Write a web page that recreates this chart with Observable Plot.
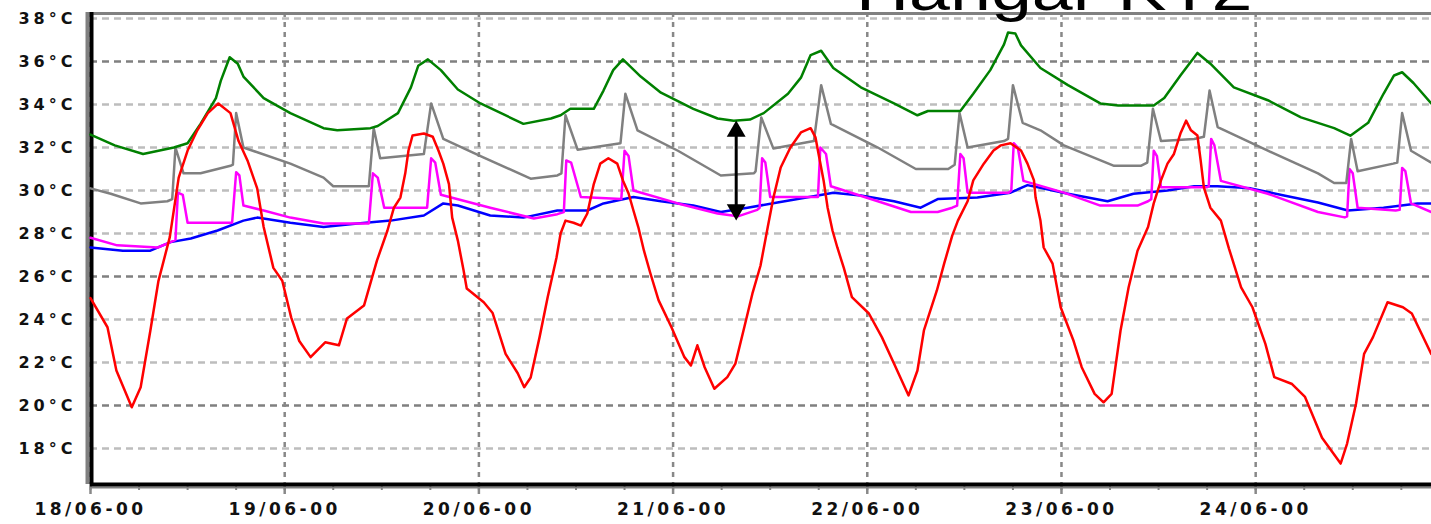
<!DOCTYPE html>
<html>
<head>
<meta charset="utf-8">
<script src="https://cdn.jsdelivr.net/npm/d3@7"></script>
<script src="https://cdn.jsdelivr.net/npm/@observablehq/plot@0.6"></script>
<style>
  html, body { margin: 0; padding: 0; background: #fff; overflow: hidden; }
  #wrap { position: relative; width: 1431px; height: 524px; overflow: hidden; }
  #title { position: absolute; left: 856px; top: -38px; font-family: "Liberation Sans", Arial, sans-serif;
           font-size: 57px; line-height: 57px; color: #000; white-space: nowrap;
           transform: scaleX(1.29); transform-origin: left top; z-index: 2; }
</style>
</head>
<body>
<div id="wrap"><div id="chart"></div><div id="title">Hangar KT2</div></div>
<script>
// hours since 18/06 00:00, temperature °C
const greenSeries = [[0,32.6],[3,32.1],[6.5,31.7],[10.3,32.0],[12,32.2],[13.6,33.1],[15.5,34.3],[16.1,35.1],[17.2,36.2],[18.2,35.9],[18.9,35.3],[21.4,34.3],[24.7,33.6],[28.8,32.9],[30.5,32.8],[34.6,32.9],[35.5,33.0],[38,33.6],[39.6,34.8],[40.5,35.8],[41.7,36.1],[43.3,35.6],[45.4,34.7],[48.2,34.05],[53.5,33.1],[56.9,33.35],[58.1,33.5],[59.3,33.8],[62.2,33.8],[63.4,34.65],[64.6,35.6],[65.8,36.1],[68,35.3],[70.5,34.55],[74.5,33.8],[77.5,33.35],[79.5,33.25],[81.5,33.3],[83.2,33.6],[86.2,34.5],[87.8,35.25],[89,36.3],[90.3,36.5],[91.8,35.7],[95.2,34.8],[99.3,34.05],[102.2,33.5],[103.5,33.7],[107.5,33.7],[109.1,34.5],[111.2,35.6],[112.9,36.8],[113.4,37.35],[114.3,37.3],[115,36.75],[117.4,35.7],[120.8,34.9],[124.8,34.05],[127,33.95],[131.4,33.95],[132.7,34.3],[134.7,35.35],[136.8,36.4],[138.4,35.9],[141.3,34.8],[145.5,34.2],[149.6,33.4],[153.7,32.9],[155.7,32.55],[157.9,33.15],[159.8,34.5],[161.1,35.35],[162.1,35.5],[163.5,35.0],[165.7,34.05]];

const greySeries = [[0,30.1],[2.5,29.85],[6.2,29.4],[9.5,29.5],[10.1,29.6],[10.5,32.0],[11.5,30.8],[13.6,30.8],[17.3,31.15],[17.6,31.2],[18.0,33.6],[18.9,32.0],[24.7,31.25],[28.8,30.6],[30,30.2],[34.4,30.2],[35.0,32.9],[35.8,31.5],[41.2,31.7],[42.1,34.05],[43.6,32.4],[48.2,31.6],[54.4,30.55],[57.7,30.7],[58.2,30.8],[58.7,33.5],[60.2,31.9],[65.5,32.2],[66.1,34.5],[67.6,32.8],[72.6,31.85],[77.9,30.7],[82,30.8],[82.2,30.9],[82.9,33.4],[84.4,31.95],[89.4,32.3],[90.3,34.9],[91.5,33.1],[97.3,32.0],[102,31.0],[106,31.0],[106.8,31.2],[107.4,33.6],[108.4,32.0],[112.9,32.3],[113.4,32.4],[114.0,34.9],[115.2,33.15],[117.4,32.8],[120.3,32.1],[126.5,31.15],[129.8,31.15],[130.6,31.3],[131.3,33.8],[132.3,32.3],[136.4,32.4],[137.6,32.5],[138.3,34.65],[139.3,32.95],[145.5,31.85],[151.7,30.8],[153.7,30.35],[155.2,30.35],[155.8,32.4],[156.6,30.9],[161,31.25],[161.5,31.3],[162.1,33.6],[163.2,31.85],[165.7,31.3]];

const magentaSeries = [[0,27.8],[3.3,27.45],[8.3,27.35],[9.9,27.6],[10.5,27.7],[10.8,29.9],[11.4,29.8],[12.0,28.5],[17.5,28.5],[18.0,30.85],[18.4,30.7],[18.9,29.3],[21.4,29.07],[24.7,28.74],[28.8,28.47],[34.4,28.47],[34.9,30.8],[35.5,30.6],[36.3,29.2],[41.6,29.2],[42.1,31.5],[42.6,31.3],[43.3,29.8],[49.4,29.2],[54.8,28.7],[57.7,28.9],[58.5,29.0],[58.8,31.4],[59.4,31.3],[60.6,29.7],[65.6,29.6],[66.0,31.85],[66.5,31.6],[67.1,30.0],[72.6,29.4],[77.5,28.93],[80,28.8],[82.4,29.1],[82.7,29.2],[83.0,31.5],[83.4,31.3],[84.0,29.7],[89.9,29.7],[90.2,32.0],[90.9,31.7],[91.5,30.2],[97.3,29.5],[101.4,29.0],[104.7,29.0],[106.5,29.2],[107.1,29.3],[107.5,31.7],[107.9,31.5],[108.4,29.9],[113.5,29.9],[113.8,30.0],[114.1,32.2],[114.6,32.0],[115.3,30.45],[120.3,29.9],[124.8,29.3],[129.4,29.3],[130.7,29.5],[131.1,29.6],[131.4,31.85],[131.8,31.6],[132.3,30.15],[138,30.15],[138.2,30.2],[138.5,32.4],[138.9,32.1],[139.7,30.45],[145.5,29.85],[151.7,29.0],[155,28.75],[155.3,28.8],[155.6,31.0],[156.0,30.8],[156.6,29.2],[161.3,29.07],[161.8,29.1],[162.1,31.05],[162.5,30.9],[163.2,29.4],[165.7,29.0]];

const blueSeries = [[0,27.35],[4,27.2],[7.4,27.2],[9.9,27.6],[12.4,27.77],[15.7,28.14],[18.9,28.6],[20.6,28.74],[24.7,28.5],[28.8,28.3],[33,28.47],[37.1,28.6],[41.2,28.84],[43.6,29.4],[45.4,29.3],[49.4,28.84],[53.5,28.74],[57.7,29.07],[61.4,29.07],[63.4,29.4],[67.1,29.7],[70.5,29.5],[74.5,29.3],[77.9,29.0],[81.2,29.2],[84.9,29.44],[89.9,29.77],[91.8,29.9],[95.2,29.77],[99.3,29.5],[102.6,29.2],[104.7,29.6],[109.6,29.67],[113.7,29.9],[115.8,30.25],[120.8,29.85],[125.7,29.5],[128.9,29.85],[133.1,30.0],[136.4,30.2],[139.3,30.2],[143.4,30.1],[147.5,29.77],[151.7,29.44],[155.4,29.07],[159.8,29.2],[164,29.4],[165.7,29.4]];

const redSeries = [[0,25.0],[2.1,23.64],[3.2,21.63],[5.1,19.92],[6.2,20.85],[7.4,23.49],[8.4,25.8],[9.8,27.83],[10.9,30.6],[12,31.86],[13.2,32.8],[14.5,33.6],[15.8,34.05],[17.3,33.6],[18.3,32.3],[19.4,31.4],[20.6,30.1],[21.4,28.3],[22.6,26.4],[23.7,25.8],[24.8,24.1],[25.8,23.0],[27.2,22.25],[29,22.94],[30.7,22.8],[31.7,24.05],[33.8,24.65],[35.4,26.74],[36.7,28.14],[37.5,29.2],[38.3,29.67],[38.9,30.8],[39.3,31.86],[39.8,32.56],[41.2,32.65],[42.3,32.5],[43,31.86],[43.6,31.25],[44.3,30.3],[44.7,28.74],[45.4,27.67],[46.1,26.3],[46.5,25.44],[48.6,24.8],[49.7,24.3],[51.3,22.4],[52.8,21.5],[53.6,20.85],[54.4,21.3],[55.5,23.18],[56.5,25.04],[57.6,26.9],[58.1,28.0],[58.7,28.6],[59.7,28.5],[60.6,28.37],[61.4,28.93],[62.2,30.3],[63,31.25],[64,31.5],[65.1,31.25],[65.8,30.47],[66.5,29.86],[67.1,29.07],[67.7,28.3],[68.4,27.2],[69.2,26.14],[70.2,24.9],[71.8,23.64],[73.4,22.25],[74.2,21.86],[75,22.8],[75.9,21.78],[77.1,20.78],[78.7,21.32],[79.7,21.95],[80.8,23.64],[81.8,25.2],[82.8,26.5],[83.7,28.3],[84.4,29.67],[85.3,31.07],[86.5,32.0],[87.8,32.7],[89,32.9],[89.6,32.47],[89.9,31.86],[90.6,30.47],[91.1,29.2],[91.7,28.14],[92.3,27.35],[93.1,26.4],[94.1,25.04],[96.2,24.28],[97.8,23.18],[99.3,21.95],[101.1,20.47],[102.2,21.63],[103,23.49],[104.6,25.35],[105.5,26.6],[106.5,27.9],[107.2,28.6],[108.4,29.5],[109.1,30.47],[110.4,31.25],[111.6,31.86],[112.5,32.1],[113.7,32.2],[115,31.86],[115.8,31.25],[116.6,30.47],[116.8,29.67],[117.4,28.6],[117.8,27.35],[118.9,26.6],[119.9,24.57],[121.5,23.0],[122.5,21.78],[124.1,20.54],[125.2,20.15],[126.2,20.54],[127.3,23.49],[128.3,25.5],[129.4,27.2],[130.7,28.3],[131.4,29.4],[132.3,30.47],[133.1,31.25],[133.9,31.7],[134.7,32.65],[135.4,33.25],[136,32.8],[136.8,32.56],[137.2,31.4],[137.6,30.14],[138.4,29.2],[139.7,28.6],[140.7,27.3],[142.2,25.5],[143.6,24.57],[145.2,22.87],[146.3,21.32],[148.5,21.0],[150.1,20.4],[152.2,18.5],[154.5,17.3],[155.3,18.23],[156.4,20.08],[157.4,22.4],[158.5,23.18],[160.3,24.8],[162.2,24.57],[163.3,24.28],[165.7,22.4]];

// arrow marking the gap at 21/06 evening
const arrowHour = 79.8, arrowTop = 33.26, arrowBottom = 28.6;

const yTicks = [18,20,22,24,26,28,30,32,34,36,38];
const yTicksDark = [20,26,36];
const dayTicks = ["2008-06-18","2008-06-19","2008-06-20","2008-06-21","2008-06-22","2008-06-23","2008-06-24"];
const endHour = 165.73;

const t0 = Date.UTC(2008, 5, 18);
const toDate = h => new Date(t0 + h * 3600e3);
const rows = s => s.map(([h, v]) => ({t: toDate(h), v}));
const dayDates = dayTicks.map(d => new Date(d + "T00:00:00Z"));
const minorDates = d3.utcHour.every(6).range(toDate(0), toDate(endHour));
const yMin = 16.326, yMax = 38.28;

const chart = Plot.plot({
  width: 1431, height: 524,
  marginLeft: 90, marginRight: 0, marginTop: 12, marginBottom: 40,
  x: {type: "utc", domain: [toDate(0), toDate(endHour)]},
  y: {domain: [yMin, yMax]},
  style: {background: "#fff", fontFamily: "'DejaVu Sans', sans-serif", fontSize: "17px", color: "#111"},
  marks: [
    Plot.gridY(yTicks.filter(d => !yTicksDark.includes(d)), {stroke: "#bdbdbd", strokeOpacity: 1, strokeWidth: 2.5, strokeDasharray: "7,5"}),
    Plot.gridY(yTicksDark, {stroke: "#808080", strokeOpacity: 1, strokeWidth: 2.5, strokeDasharray: "7,5"}),
    Plot.gridX(dayDates, {stroke: "#888", strokeOpacity: 1, strokeWidth: 2.5, strokeDasharray: "5,5"}),
    Plot.axisX(minorDates, {tickSize: 6, text: null, label: null, stroke: "#888", strokeWidth: 2}),
    Plot.axisX(dayDates, {tickSize: 10, stroke: "#888", strokeWidth: 2.5, tickPadding: 8, label: null,
      tickFormat: d3.utcFormat("%d/%m-%H"), fontWeight: "bold", fontSize: 17}),
    Plot.axisY(yTicks, {tickSize: 0, tickPadding: 14, label: null, tickFormat: d => d + "°C", fontWeight: "bold", fontSize: 16}),
    Plot.ruleY([yMax], {stroke: "#808080", strokeWidth: 3, dy: 1}),
    Plot.ruleX([toDate(0)], {stroke: "#808080", strokeWidth: 4, dx: -3, y1: yMin, y2: yMax}),
    Plot.ruleX([toDate(0)], {stroke: "#000", strokeWidth: 4, dx: 1, y1: yMin, y2: yMax}),
    Plot.ruleY([yMin], {stroke: "#808080", strokeWidth: 2, dy: 3}),
    Plot.ruleY([yMin], {stroke: "#000", strokeWidth: 4}),
    Plot.line(rows(blueSeries), {x: "t", y: "v", stroke: "#0000ff", strokeWidth: 2.5}),
    Plot.line(rows(magentaSeries), {x: "t", y: "v", stroke: "#ff00ff", strokeWidth: 2.5}),
    Plot.line(rows(greySeries), {x: "t", y: "v", stroke: "#808080", strokeWidth: 2.5}),
    Plot.line(rows(greenSeries), {x: "t", y: "v", stroke: "#008000", strokeWidth: 2.5}),
    Plot.line(rows(redSeries), {x: "t", y: "v", stroke: "#ff0000", strokeWidth: 2.5}),
    Plot.ruleX([toDate(arrowHour)], {y1: arrowTop - 0.3, y2: arrowBottom + 0.3, stroke: "#000", strokeWidth: 3}),
    Plot.dot([{t: toDate(arrowHour), v: arrowTop}], {x: "t", y: "v", symbol: "triangle", r: 7, fill: "#000", dy: 11}),
    Plot.dot([{t: toDate(arrowHour), v: arrowBottom}], {x: "t", y: "v", symbol: "triangle", r: 7, fill: "#000", rotate: 180, dy: -11})
  ]
});
document.getElementById("chart").appendChild(chart);

// the original's tick labels are widely spaced
chart.querySelectorAll("text").forEach(t => {
  t.style.letterSpacing = /°C$/.test(t.textContent) ? "4px" : "3.5px";
});
</script>
</body>
</html>
